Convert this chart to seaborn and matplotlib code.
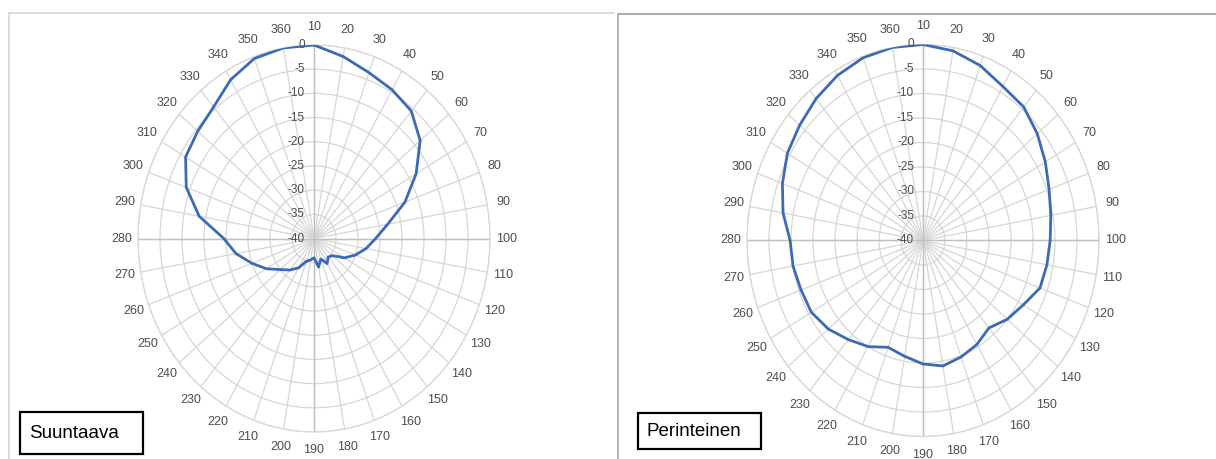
import numpy as np
import pandas as pd
import matplotlib
matplotlib.use("Agg")
import matplotlib.pyplot as plt
import seaborn as sns
from matplotlib.patches import Rectangle
from matplotlib.lines import Line2D
import matplotlib.transforms as mtransforms

# ---------------- data ----------------
angle_labels = ["10", "20", "30", "40", "50", "60", "70", "80", "90", "100",
                "110", "120", "130", "140", "150", "160", "170", "180", "190", "200",
                "210", "220", "230", "240", "250", "260", "270", "280", "290", "300",
                "310", "320", "330", "340", "350", "360"]
angle_deg = [0, 10, 20, 30, 40, 50, 60, 70, 80, 90,
             100, 110, 120, 130, 140, 150, 160, 170, 180, 190,
             200, 210, 220, 230, 240, 250, 260, 270, 280, 290,
             300, 310, 320, 330, 340, 350]
radial_ticks = [0, -5, -10, -15, -20, -25, -30, -35, -40]

suuntaava = [0, -1.8, -3.5, -4.5, -5.6, -8.5, -13.2, -18, -23, -26,
             -28, -30, -32, -34.5, -35, -34, -35.5, -34, -36, -35.5,
             -35, -33, -31.5, -30, -27.5, -25, -22, -19.5, -13.5, -9.1,
             -6.3, -5.5, -4.5, -2.1, -0.4, 0]
perinteinen = [0, -0.7, -2, -3.7, -4.4, -6.1, -7.9, -9.5, -10.5, -11.1,
               -11.4, -11.7, -13.7, -15, -16.7, -15.5, -14.7, -14, -14.8, -16,
               -16.8, -15, -13.6, -11.9, -10.7, -10.5, -10, -9.8, -7.7, -6,
               -4.4, -3.4, -2.2, -1.1, -0.3, 0]
panel_titles = ["Suuntaava", "Perinteinen"]

# ---------------- style ----------------
sns.set_theme(style="white")
plt.rcParams["font.family"] = ["Liberation Sans", "DejaVu Sans"]

W, H = 1216, 459
fig = plt.figure(figsize=(W / 100, H / 100), dpi=100)
fig.patch.set_facecolor("white")


def px_rect(left, top, right, bottom):
    return [left / W, 1 - bottom / H, (right - left) / W, (bottom - top) / H]


GRID = "#d6d6d6"
LINE = "#3C6BB5"
TXT = "#4d4d4d"


def radar(ax, values):
    ax.set_theta_zero_location("N")
    ax.set_theta_direction(-1)
    ax.set_aspect("auto")
    ax.set_facecolor("white")
    ax.set_ylim(-40, 0)
    ax.set_yticks(radial_ticks)
    ax.set_yticklabels([])
    ax.set_xticks(np.deg2rad(angle_deg))
    ax.set_xticklabels([])
    ax.grid(True, color=GRID, linewidth=0.9)
    ax.spines["polar"].set_color(GRID)
    ax.spines["polar"].set_linewidth(0.9)
    # darker main axes
    for a in [0, 90, 180, 270]:
        ax.plot([np.deg2rad(a), np.deg2rad(a)], [-40, 0], color="#c0c0c0",
                linewidth=1.0, zorder=1)

    theta = np.deg2rad(np.array(angle_deg + [angle_deg[0]], dtype=float))
    theta[-1] = 2 * np.pi
    df = pd.DataFrame({"theta": theta, "value": list(values) + [values[0]]})
    sns.lineplot(data=df, x="theta", y="value", ax=ax, sort=False,
                 estimator=None, color=LINE, linewidth=2.0, zorder=5)
    ax.set_xlabel("")
    ax.set_ylabel("")

    for lab, a in zip(angle_labels, angle_deg):
        ax.text(np.deg2rad(a), 3.7, lab, ha="center", va="center",
                fontsize=9, color=TXT, clip_on=False)

    off = mtransforms.offset_copy(ax.transData, fig=fig, x=-9, y=0, units="dots")
    for r in radial_ticks:
        ax.text(0, r, str(r), ha="right", va="center", fontsize=8.5,
                color=TXT, transform=off, zorder=6)


ax1 = fig.add_axes(px_rect(138, 45, 490, 432), projection="polar")
radar(ax1, suuntaava)
ax2 = fig.add_axes(px_rect(747, 44.5, 1099, 436.5), projection="polar")
radar(ax2, perinteinen)

# panel borders
def fline(x0, y0, x1, y1, color, lw):
    fig.add_artist(Line2D([x0 / W, x1 / W], [1 - y0 / H, 1 - y1 / H],
                          color=color, linewidth=lw))

fline(8.5, 12.5, 614, 12.5, "#d4d4d4", 1.2)
fline(8.5, 12.5, 8.5, 459, "#d4d4d4", 1.2)
fline(617.5, 13.5, 617.5, 459, "#b8b8b8", 1.4)
fline(617.5, 13.5, 1216, 13.5, "#ababab", 1.4)

# title boxes
boxes = [(20, 412, 143, 454, 29), (638, 413, 761, 449, 647)]
for (l, t, r, b, tx), title in zip(boxes, panel_titles):
    fig.add_artist(Rectangle((l / W, 1 - b / H), (r - l) / W, (b - t) / H,
                             transform=fig.transFigure, facecolor="white",
                             edgecolor="black", linewidth=1.6, zorder=10))
    fig.text(tx / W, 1 - ((t + b) / 2 + 1) / H, title, ha="left", va="center",
             fontsize=13.5, color="black", zorder=11)

fig.savefig("out.png", dpi=100, facecolor="white")
